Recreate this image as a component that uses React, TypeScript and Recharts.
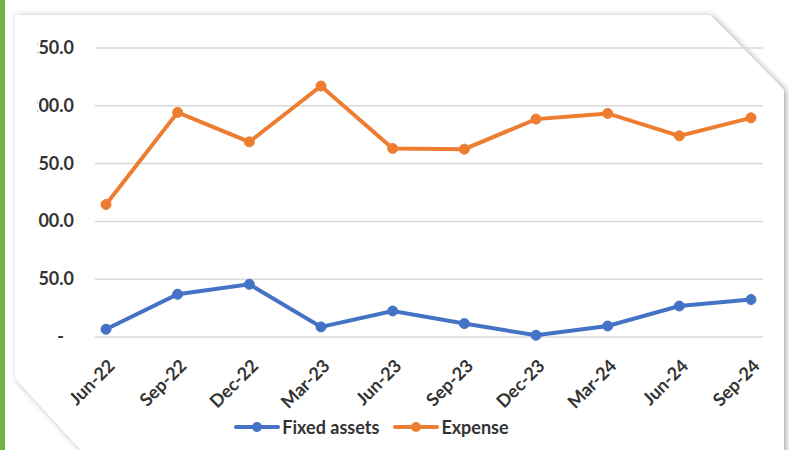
import { CartesianGrid, Legend, Line, LineChart, XAxis, YAxis } from 'recharts'

const quarters = ['Jun-22', 'Sep-22', 'Dec-22', 'Mar-23', 'Jun-23', 'Sep-23', 'Dec-23', 'Mar-24', 'Jun-24', 'Sep-24']
const fixedAssets = [6.7, 37.0, 45.6, 8.7, 22.5, 11.6, 1.5, 9.5, 26.8, 32.4]
const expense = [114.6, 194.3, 168.8, 217.1, 163.1, 162.5, 188.5, 193.4, 174.0, 189.6]
const yTicks = [0, 50, 100, 150, 200, 250]

const chartData = quarters.map((quarter, i) => ({
  quarter,
  fixed: fixedAssets[i],
  expense: expense[i],
}))

const FONT = 'Lato, "Open Sans", sans-serif'
const TEXT = '#333333'
const BLUE = '#4472C4'
const ORANGE = '#ED7D31'

// the left edge of the original picture cuts into the first digit
function YTick({ x, y, payload }: any) {
  const label = payload.value === 0 ? '-' : Number(payload.value).toFixed(1)
  return (
    <g>
      <defs>
        <clipPath id={`ytick-clip-${payload.value}`}>
          <rect x={37.5} y={0} width={200} height={450} />
        </clipPath>
      </defs>
      <text
        x={payload.value === 0 ? x - 10 : x}
        y={y}
        dy={6}
        textAnchor="end"
        fontFamily={FONT}
        fontWeight={700}
        fontSize={18}
        fill={TEXT}
        clipPath={`url(#ytick-clip-${payload.value})`}
      >
        {label}
      </text>
    </g>
  )
}

function XTick({ x, y, payload }: any) {
  const ax = x + 10
  const ay = y + 16
  return (
    <text
      x={ax}
      y={ay}
      transform={`rotate(-45 ${ax} ${ay})`}
      textAnchor="end"
      fontFamily={FONT}
      fontWeight={700}
      fontSize={18}
      fill={TEXT}
    >
      {payload.value}
    </text>
  )
}

function LegendContent() {
  const items = [
    { name: 'Fixed assets', color: BLUE },
    { name: 'Expense', color: ORANGE },
  ]
  return (
    <div style={{ display: 'flex', justifyContent: 'center', gap: 14, fontFamily: FONT }}>
      {items.map((item) => (
        <div key={item.name} style={{ display: 'flex', alignItems: 'center' }}>
          <svg width={46} height={14}>
            <line x1={2} y1={7} x2={44} y2={7} stroke={item.color} strokeWidth={4} strokeLinecap="round" />
            <circle cx={23} cy={7} r={5} fill={item.color} />
          </svg>
          <span style={{ fontSize: 18, fontWeight: 700, color: TEXT, marginLeft: 2 }}>{item.name}</span>
        </div>
      ))}
    </div>
  )
}

export default function App() {
  return (
    <div style={{ position: 'absolute', left: 0, top: 0, width: 789, height: 450, background: '#ffffff', overflow: 'hidden' }}>
      <svg width={789} height={450} style={{ position: 'absolute', left: 0, top: 0 }}>
        <defs>
          <filter id="panel-shadow" x="-10%" y="-10%" width="120%" height="120%">
            <feDropShadow dx={2} dy={1} stdDeviation={3} floodColor="#000" floodOpacity={0.35} />
          </filter>
        </defs>
        <polygon
          points="15,15 710,15 784,90 784,460 90,460 15,378"
          fill="#ffffff"
          filter="url(#panel-shadow)"
        />
        <rect x={0} y={0} width={5} height={450} fill="#6FB343" />
      </svg>
      <div style={{ position: 'absolute', left: 0, top: 0 }}>
        <LineChart width={789} height={450} data={chartData} margin={{ top: 48, right: 26, bottom: 0, left: 15 }}>
          <CartesianGrid vertical={false} stroke="#d9d9d9" strokeWidth={1.5} />
          <XAxis
            dataKey="quarter"
            axisLine={false}
            tickLine={false}
            height={113}
            interval={0}
            padding={{ left: 11, right: 12 }}
            tick={<XTick />}
            tickMargin={8}
          />
          <YAxis
            domain={[0, 250]}
            ticks={yTicks}
            axisLine={false}
            tickLine={false}
            width={80}
            tick={<YTick />}
            tickMargin={15}
          />
          <Legend
            verticalAlign="middle"
            align="center"
            layout="horizontal"
            content={<LegendContent />}
            wrapperStyle={{ position: 'absolute', top: 416, left: -23, width: 789 }}
          />
          <Line
            dataKey="fixed"
            name="Fixed assets"
            stroke={BLUE}
            strokeWidth={4}
            dot={{ r: 5, fill: BLUE, stroke: BLUE, strokeWidth: 1 }}
            isAnimationActive={false}
          />
          <Line
            dataKey="expense"
            name="Expense"
            stroke={ORANGE}
            strokeWidth={4}
            dot={{ r: 5, fill: ORANGE, stroke: ORANGE, strokeWidth: 1 }}
            isAnimationActive={false}
          />
        </LineChart>
      </div>
    </div>
  )
}
